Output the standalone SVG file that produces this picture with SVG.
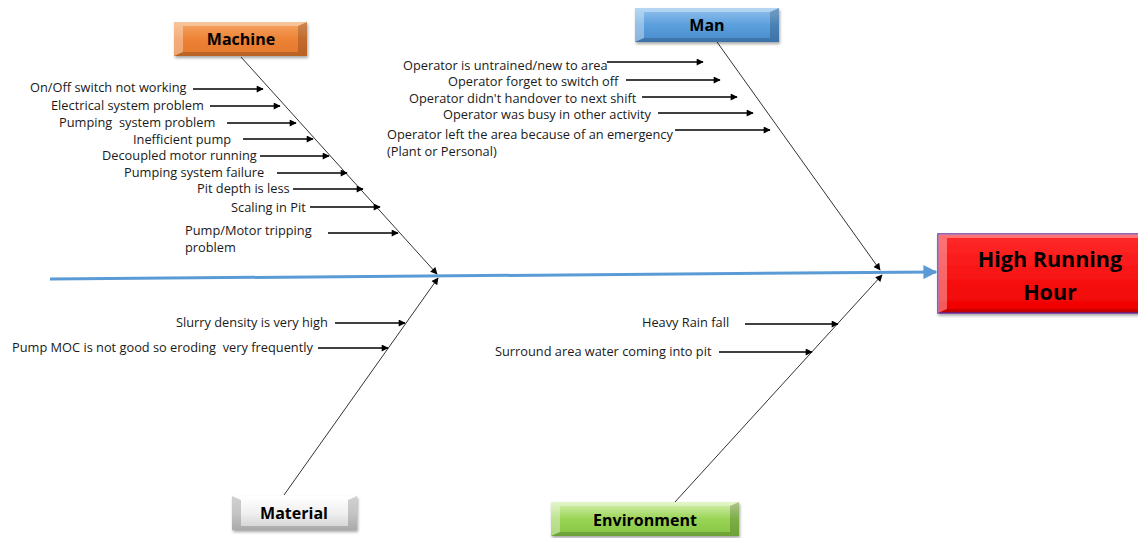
<svg xmlns="http://www.w3.org/2000/svg" width="1138" height="538" viewBox="0 0 1138 538">
<defs>
<style>
.cause{font-family:"Open Sans","Liberation Sans",Arial,sans-serif;font-size:12.8px;fill:#1a1a1a}
.cat{font-family:"Open Sans","Liberation Sans",Arial,sans-serif;font-size:16px;font-weight:bold;fill:#000;text-anchor:middle}
.eff{font-family:"Open Sans","Liberation Sans",Arial,sans-serif;font-size:21.5px;font-weight:bold;fill:#000;text-anchor:middle}
.arr{stroke:#000;stroke-width:1.6;fill:none;marker-end:url(#ah)}
.bone{stroke:#333;stroke-width:1;fill:none;marker-end:url(#ah)}
.hi{fill:#fff;opacity:0.35}
.lo{fill:#000;opacity:0.18}
</style>
<marker id="ah" viewBox="0 0 10 10" refX="9" refY="5" markerWidth="9" markerHeight="7" markerUnits="userSpaceOnUse" orient="auto"><path d="M0,0 L10,5 L0,10 z" fill="#000"/></marker>
<marker id="bh" viewBox="0 0 10 10" refX="9" refY="5" markerWidth="16" markerHeight="14" markerUnits="userSpaceOnUse" orient="auto"><path d="M0,0 L10,5 L0,10 z" fill="#5b9bd5"/></marker>
<linearGradient id="gOr" x1="0" y1="0" x2="0" y2="1"><stop offset="0" stop-color="#f6a768"/><stop offset="0.5" stop-color="#ee8235"/><stop offset="1" stop-color="#e2782c"/></linearGradient>
<linearGradient id="gBl" x1="0" y1="0" x2="0" y2="1"><stop offset="0" stop-color="#92c2ee"/><stop offset="0.5" stop-color="#5b9fdc"/><stop offset="1" stop-color="#4a8cce"/></linearGradient>
<linearGradient id="gGr" x1="0" y1="0" x2="0" y2="1"><stop offset="0" stop-color="#d7f0b0"/><stop offset="0.5" stop-color="#99d456"/><stop offset="1" stop-color="#86c543"/></linearGradient>
<linearGradient id="gWh" x1="0" y1="0" x2="0" y2="1"><stop offset="0" stop-color="#ffffff"/><stop offset="0.5" stop-color="#f0f0f0"/><stop offset="1" stop-color="#cfcfcf"/></linearGradient>
<linearGradient id="gRd" x1="0" y1="0" x2="0" y2="1"><stop offset="0" stop-color="#ff2a2a"/><stop offset="1" stop-color="#f00000"/></linearGradient>
<filter id="sh" x="-10%" y="-20%" width="125%" height="150%"><feDropShadow dx="1" dy="2" stdDeviation="1.5" flood-color="#000" flood-opacity="0.35"/></filter>
</defs>
<rect width="1138" height="538" fill="#fff"/>

<g id="connectors">
<line x1="50" y1="279" x2="936" y2="272" stroke="#5b9bd5" stroke-width="3" marker-end="url(#bh)"/>
<line class="bone" x1="241" y1="57" x2="437" y2="274"/>
<line class="bone" x1="717" y1="42" x2="880" y2="270"/>
<line class="bone" x1="284" y1="495" x2="438" y2="278"/>
<line class="bone" x1="675" y1="502" x2="882" y2="275"/>
<line class="arr" x1="193" y1="89" x2="263" y2="89"/>
<line class="arr" x1="210" y1="106" x2="280" y2="106"/>
<line class="arr" x1="227" y1="123" x2="296" y2="123"/>
<line class="arr" x1="243" y1="139" x2="313" y2="139"/>
<line class="arr" x1="260" y1="156" x2="329" y2="156"/>
<line class="arr" x1="277" y1="173" x2="347" y2="173"/>
<line class="arr" x1="293" y1="189" x2="363" y2="189"/>
<line class="arr" x1="310" y1="207" x2="380" y2="207"/>
<line class="arr" x1="328" y1="233" x2="398" y2="233"/>
<line class="arr" x1="607" y1="62" x2="703" y2="62"/>
<line class="arr" x1="626" y1="80" x2="720" y2="80"/>
<line class="arr" x1="642" y1="97" x2="737" y2="97"/>
<line class="arr" x1="658" y1="113" x2="753" y2="113"/>
<line class="arr" x1="675" y1="130" x2="770" y2="130"/>
<line class="arr" x1="335" y1="323" x2="405" y2="323"/>
<line class="arr" x1="318" y1="348" x2="388" y2="348"/>
<line class="arr" x1="745" y1="324" x2="838" y2="324"/>
<line class="arr" x1="719" y1="352" x2="812" y2="352"/>
</g>

<g id="effect">
<rect x="938" y="234" width="205" height="79" fill="url(#gRd)" stroke="#7030a0" stroke-width="1.5" filter="url(#sh)"/>
<polygon class="hi" points="938,234 1143,234 1143,238 947,238"/>
<polygon class="hi" points="938,234 947,238 947,309 938,313"/>
<polygon class="lo" points="938,313 947,309 1143,309 1143,313"/>
<text class="eff" x="1050" y="267">High Running</text>
<text class="eff" x="1050" y="300">Hour</text>
</g>

<g id="machine">
<rect x="174" y="22" width="133" height="34" fill="url(#gOr)" filter="url(#sh)"/>
<polygon class="hi" points="174,22 307,22 298,26 183,26"/>
<polygon class="hi" points="174,22 183,26 183,52 174,56"/>
<polygon class="lo" points="307,22 307,56 298,52 298,26"/>
<polygon class="lo" points="174,56 183,52 298,52 307,56"/>
<text class="cat" x="241" y="45">Machine</text>
<text class="cause" x="30" y="92">On/Off switch not working</text>
<text class="cause" x="51" y="110">Electrical system problem</text>
<text class="cause" x="59" y="127" xml:space="preserve">Pumping  system problem</text>
<text class="cause" x="133" y="144">Inefficient pump</text>
<text class="cause" x="102" y="160">Decoupled motor running</text>
<text class="cause" x="124" y="177">Pumping system failure</text>
<text class="cause" x="197" y="193">Pit depth is less</text>
<text class="cause" x="231" y="212">Scaling in Pit</text>
<text class="cause" x="185" y="235">Pump/Motor tripping</text>
<text class="cause" x="185" y="252">problem</text>
</g>

<g id="man">
<rect x="635" y="8" width="144" height="34" fill="url(#gBl)" filter="url(#sh)"/>
<polygon class="hi" points="635,8 779,8 770,12 644,12"/>
<polygon class="hi" points="635,8 644,12 644,38 635,42"/>
<polygon class="lo" points="779,8 779,42 770,38 770,12"/>
<polygon class="lo" points="635,42 644,38 770,38 779,42"/>
<text class="cat" x="707" y="31">Man</text>
<text class="cause" x="403" y="70">Operator is untrained/new to area</text>
<text class="cause" x="448" y="86">Operator forget to switch off</text>
<text class="cause" x="409" y="103">Operator didn't handover to next shift</text>
<text class="cause" x="443" y="119">Operator was busy in other activity</text>
<text class="cause" x="387" y="139">Operator left the area because of an emergency</text>
<text class="cause" x="387" y="156">(Plant or Personal)</text>
</g>

<g id="material">
<rect x="232" y="496" width="125" height="34" fill="url(#gWh)" filter="url(#sh)"/>
<polygon class="hi" points="232,496 357,496 348,500 241,500"/>
<polygon class="lo" points="232,496 241,500 241,526 232,530" opacity="0.1"/>
<polygon class="lo" points="357,496 357,530 348,526 348,500"/>
<polygon class="lo" points="232,530 241,526 348,526 357,530"/>
<text class="cat" x="294" y="519">Material</text>
<text class="cause" x="176" y="327">Slurry density is very high</text>
<text class="cause" x="12" y="352" xml:space="preserve">Pump MOC is not good so eroding  very frequently</text>
</g>

<g id="environment">
<rect x="551" y="502" width="188" height="34" fill="url(#gGr)" filter="url(#sh)"/>
<polygon class="hi" points="551,502 739,502 730,506 560,506"/>
<polygon class="hi" points="551,502 560,506 560,532 551,536"/>
<polygon class="lo" points="739,502 739,536 730,532 730,506"/>
<polygon class="lo" points="551,536 560,532 730,532 739,536"/>
<text class="cat" x="645" y="526">Environment</text>
<text class="cause" x="642" y="327">Heavy Rain fall</text>
<text class="cause" x="495" y="356">Surround area water coming into pit</text>
</g>
</svg>
